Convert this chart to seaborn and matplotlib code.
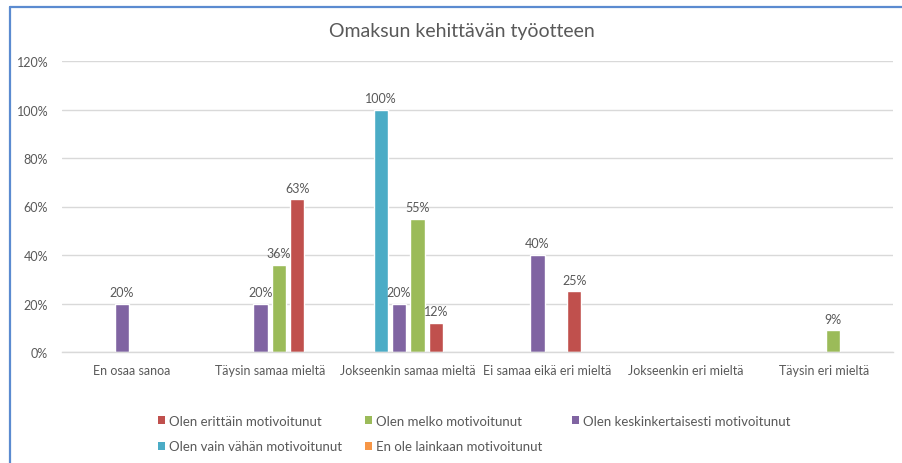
import numpy as np
import pandas as pd
import matplotlib
matplotlib.use("Agg")
import matplotlib.pyplot as plt
from matplotlib.patches import Patch
from matplotlib.lines import Line2D
from matplotlib.ticker import FuncFormatter
import seaborn as sns

categories = [
    "En osaa sanoa",
    "Täysin samaa mieltä",
    "Jokseenkin samaa mieltä",
    "Ei samaa eikä eri mieltä",
    "Jokseenkin eri mieltä",
    "Täysin eri mieltä",
]

# arvot prosentteina, None = ei palkkia
erittain = [None, 63, 12, 25, None, None]
melko = [None, 36, 55, None, None, 9]
keskink = [20, 20, 20, 40, None, None]
vahan = [None, None, 100, None, None, None]
lainkaan = [None, None, None, None, None, None]

series = {
    "Olen erittäin motivoitunut": erittain,
    "Olen melko motivoitunut": melko,
    "Olen keskinkertaisesti motivoitunut": keskink,
    "Olen vain vähän motivoitunut": vahan,
    "En ole lainkaan motivoitunut": lainkaan,
}

colors = {
    "Olen erittäin motivoitunut": "#C0504D",
    "Olen melko motivoitunut": "#9BBB59",
    "Olen keskinkertaisesti motivoitunut": "#8064A2",
    "Olen vain vähän motivoitunut": "#4BACC6",
    "En ole lainkaan motivoitunut": "#F79646",
    "_tyhja": "#FFFFFF",
}

# order of bars inside a group (excel draws one empty slot at the end)
hue_order = [
    "En ole lainkaan motivoitunut",
    "Olen vain vähän motivoitunut",
    "Olen keskinkertaisesti motivoitunut",
    "Olen melko motivoitunut",
    "Olen erittäin motivoitunut",
    "_tyhja",
]

rows = []
for name, vals in series.items():
    for cat, v in zip(categories, vals):
        if v is not None:
            rows.append({"kategoria": cat, "sarja": name, "osuus": v})
df = pd.DataFrame(rows)

sns.set_style("white")
plt.rcParams["font.family"] = ["Lato", "DejaVu Sans"]

grey = "#595959"

fig = plt.figure(figsize=(9.02, 4.64), dpi=100)
ax = fig.add_axes([62 / 902, 1 - 353 / 464, (893 - 62) / 902, (353 - 62) / 464])

sns.barplot(data=df, x="kategoria", y="osuus", hue="sarja", order=categories,
            hue_order=hue_order, palette=colors, width=0.8, gap=0.24,
            saturation=1, errorbar=None, legend=False, ax=ax)

for c in ax.containers:
    labels = ["" if (np.isnan(h) or h <= 0) else f"{h:.0f}%" for h in c.datavalues]
    ax.bar_label(c, labels=labels, padding=4, fontsize=9, color=grey)

ax.set_ylim(0, 120)
ax.set_yticks(np.arange(0, 121, 20))
ax.yaxis.set_major_formatter(FuncFormatter(lambda v, p: f"{v:.0f}%"))
ax.set_xlim(-0.5, len(categories) - 0.5)
ax.grid(axis="y", color="#D9D9D9", linewidth=1)
ax.set_axisbelow(True)
for s in ["top", "right", "left"]:
    ax.spines[s].set_visible(False)
ax.spines["bottom"].set_color("#D9D9D9")
ax.spines["bottom"].set_linewidth(1)
ax.tick_params(axis="both", length=0, labelsize=9, colors=grey)
ax.tick_params(axis="y", pad=10)
ax.tick_params(axis="x", pad=9)
ax.set_xlabel("")
ax.set_ylabel("")

fig.text(462 / 902, 1 - 32 / 464, "Omaksun kehittävän työotteen", ha="center", va="center",
         fontsize=14, color=grey)

# legend: three equally spaced columns like in excel
legend_cols = [
    (158, ["Olen erittäin motivoitunut", "Olen vain vähän motivoitunut"]),
    (365, ["Olen melko motivoitunut", "En ole lainkaan motivoitunut"]),
    (572, ["Olen keskinkertaisesti motivoitunut"]),
]
for x0, names in legend_cols:
    handles = [Patch(facecolor=colors[n], edgecolor="none") for n in names]
    yc = 422 if len(names) == 1 else 434.5
    leg = fig.legend(handles, names, loc="center left",
                     bbox_to_anchor=(x0 / 902, 1 - yc / 464), ncol=1, frameon=False,
                     fontsize=9.5, handlelength=0.55, handleheight=0.55, handletextpad=0.3,
                     labelspacing=1.05, borderaxespad=0, borderpad=0)
    for t in leg.get_texts():
        t.set_color(grey)

# sininen kehys
fig.add_artist(Line2D([9.5 / 902, 1], [1 - 7.5 / 464, 1 - 7.5 / 464], color="#5B8BD0", lw=1.6))
fig.add_artist(Line2D([9.5 / 902, 9.5 / 902], [0, 1 - 7.5 / 464], color="#5B8BD0", lw=1.6))

fig.savefig("out.png", dpi=100)
